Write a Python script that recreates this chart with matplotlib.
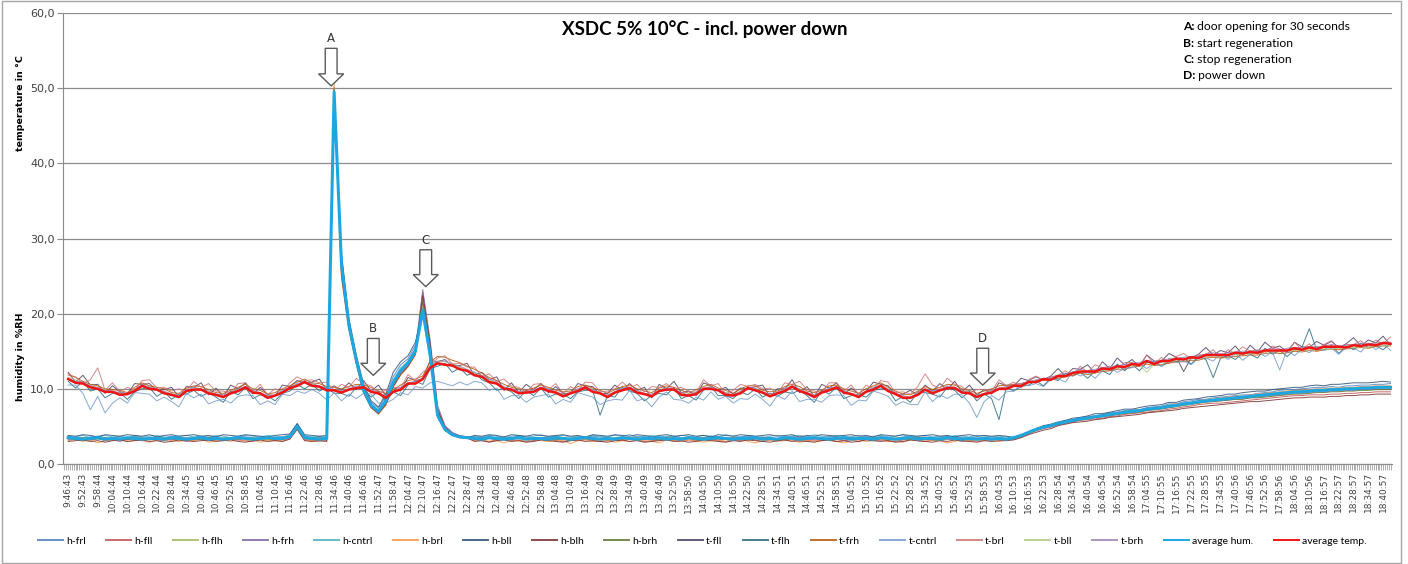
import numpy as np
import matplotlib
matplotlib.use("Agg")
import matplotlib.pyplot as plt
from matplotlib.patches import FancyArrow, Rectangle
from matplotlib.ticker import FixedLocator

# one sample every 3 minutes starting 9:46:43, x labels every 6 minutes
time_labels = [
    "9:46:43", "9:52:43", "9:58:44", "10:04:44", "10:10:44", "10:16:44", "10:22:44", "10:28:44",
    "10:34:45", "10:40:45", "10:46:45", "10:52:45", "10:58:45", "11:04:45", "11:10:45", "11:16:46",
    "11:22:46", "11:28:46", "11:34:46", "11:40:46", "11:46:46", "11:52:47", "11:58:47", "12:04:47",
    "12:10:47", "12:16:47", "12:22:47", "12:28:47", "12:34:48", "12:40:48", "12:46:48", "12:52:48",
    "12:58:48", "13:04:48", "13:10:49", "13:16:49", "13:22:49", "13:28:49", "13:34:49", "13:40:49",
    "13:46:49", "13:52:50", "13:58:50", "14:04:50", "14:10:50", "14:16:50", "14:22:50", "14:28:51",
    "14:34:51", "14:40:51", "14:46:51", "14:52:51", "14:58:51", "15:04:51", "15:10:52", "15:16:52",
    "15:22:52", "15:28:52", "15:34:52", "15:40:52", "15:46:52", "15:52:53", "15:58:53", "16:04:53",
    "16:10:53", "16:16:53", "16:22:53", "16:28:54", "16:34:54", "16:40:54", "16:46:54", "16:52:54",
    "16:58:54", "17:04:55", "17:10:55", "17:16:55", "17:22:55", "17:28:55", "17:34:55", "17:40:56",
    "17:46:56", "17:52:56", "17:58:56", "18:04:56", "18:10:56", "18:16:57", "18:22:57", "18:28:57",
    "18:34:57", "18:40:57",
]
y_labels = ["0,0", "10,0", "20,0", "30,0", "40,0", "50,0", "60,0"]

# ---- humidity sensors (%RH) ----
h_frl = [
    3.6, 3.5, 3.4, 3.6, 3.7, 3.5, 3.4, 3.6, 3.5, 3.7, 3.5, 3.4, 3.6, 3.5, 3.7, 3.6, 3.4, 3.5,
    3.7, 3.5, 3.6, 3.4, 3.5, 3.7, 3.6, 3.5, 3.4, 3.6, 3.5, 3.6, 3.8, 5.2, 3.7, 3.5, 3.6, 3.5,
    49.0, 27.5, 19.0, 14.2, 10.3, 8.2, 7.4, 9.0, 11.6, 13.2, 14.0, 15.8, 21.5, 15.5, 7.0, 4.8, 4.0, 3.7, 3.6,
    3.6, 3.5, 3.7, 3.4, 3.6, 3.5, 3.7, 3.6, 3.4, 3.5, 3.6, 3.7, 3.5, 3.4, 3.6, 3.5, 3.7, 3.6, 3.5, 3.4,
    3.6, 3.5, 3.7, 3.6, 3.4, 3.5, 3.6, 3.7, 3.5, 3.6, 3.4, 3.5, 3.7, 3.6, 3.5, 3.4, 3.6, 3.7, 3.5, 3.6,
    3.5, 3.4, 3.6, 3.7, 3.5, 3.6, 3.4, 3.5, 3.7, 3.6, 3.5, 3.6, 3.4, 3.7, 3.5, 3.6, 3.5, 3.4, 3.6, 3.7,
    3.5, 3.6, 3.4, 3.5, 3.7, 3.6, 3.5, 3.4, 3.6, 3.5, 3.6, 3.5, 3.4,
    3.5, 3.8, 4.3, 4.7, 5.0, 5.2, 5.5, 5.8, 5.9, 6.2, 6.3, 6.4, 6.6, 6.8, 6.9, 7.1, 7.2, 7.2, 7.5, 7.6,
    7.7, 8.0, 8.0, 8.3, 8.4, 8.6, 8.6, 8.8, 8.9, 9.0, 9.1, 9.2, 9.2, 9.4, 9.5, 9.6, 9.8, 9.9, 9.9, 10.0,
    10.1, 10.2, 10.2, 10.3, 10.2, 10.4, 10.4, 10.5, 10.5, 10.6, 10.6, 10.7,
]
h_fll = [
    3.2, 3.3, 3.1, 3.2, 3.4, 3.1, 3.2, 3.0, 3.3, 3.2, 3.1, 3.3, 3.2, 3.1, 3.3, 3.2, 3.0, 3.2,
    3.3, 3.1, 3.2, 3.1, 3.3, 3.2, 3.1, 3.0, 3.2, 3.3, 3.1, 3.2, 3.4, 4.8, 3.3, 3.1, 3.2, 3.1,
    50.2, 25.0, 18.0, 13.5, 9.5, 7.6, 6.8, 8.0, 10.4, 12.0, 13.1, 14.7, 22.8, 16.0, 7.5, 5.0, 4.1, 3.7, 3.5,
    3.2, 3.1, 3.0, 3.2, 3.3, 3.1, 3.2, 3.0, 3.1, 3.3, 3.2, 3.1, 3.0, 3.2, 3.1, 3.3, 3.2, 3.0, 3.1, 3.2,
    3.1, 3.3, 3.2, 3.0, 3.1, 3.2, 3.3, 3.1, 3.0, 3.2, 3.1, 3.2, 3.3, 3.1, 3.0, 3.2, 3.1, 3.3, 3.2, 3.0,
    3.2, 3.1, 3.3, 3.2, 3.0, 3.1, 3.2, 3.1, 3.3, 3.0, 3.1, 3.2, 3.0, 3.3, 3.1, 3.2, 3.1, 3.0, 3.2, 3.3,
    3.1, 3.0, 3.2, 3.1, 3.3, 3.2, 3.0, 3.1, 3.2, 3.1, 3.2, 3.3, 3.2,
    3.3, 3.6, 4.0, 4.4, 4.7, 4.9, 5.2, 5.4, 5.6, 5.8, 5.9, 6.0, 6.1, 6.3, 6.4, 6.6, 6.7, 6.8, 6.9, 7.0,
    7.1, 7.3, 7.4, 7.6, 7.7, 7.9, 8.0, 8.1, 8.1, 8.2, 8.3, 8.4, 8.5, 8.6, 8.7, 8.8, 8.9, 9.0, 9.1, 9.1,
    9.2, 9.2, 9.2, 9.3, 9.3, 9.4, 9.4, 9.5, 9.5, 9.6, 9.6, 9.6,
]
h_flh = [
    3.4, 3.3, 3.5, 3.4, 3.2, 3.4, 3.5, 3.3, 3.4, 3.2, 3.5, 3.4, 3.3, 3.5, 3.4, 3.2, 3.4, 3.5,
    3.3, 3.4, 3.2, 3.5, 3.4, 3.3, 3.4, 3.5, 3.3, 3.2, 3.4, 3.5, 3.6, 5.0, 3.5, 3.4, 3.3, 3.4,
    49.8, 26.0, 18.4, 13.6, 9.6, 7.7, 6.9, 8.2, 10.6, 12.2, 13.3, 14.9, 20.8, 15.0, 6.8, 4.7, 3.9, 3.6, 3.4,
    3.4, 3.3, 3.5, 3.4, 3.2, 3.4, 3.5, 3.3, 3.4, 3.5, 3.3, 3.4, 3.2, 3.5, 3.4, 3.3, 3.5, 3.4, 3.2, 3.4,
    3.5, 3.3, 3.4, 3.5, 3.2, 3.4, 3.3, 3.5, 3.4, 3.3, 3.4, 3.5, 3.3, 3.2, 3.4, 3.5, 3.4, 3.3, 3.5, 3.4,
    3.2, 3.4, 3.5, 3.3, 3.4, 3.2, 3.5, 3.4, 3.3, 3.5, 3.4, 3.3, 3.5, 3.4, 3.2, 3.4, 3.3, 3.5, 3.4, 3.3,
    3.5, 3.4, 3.2, 3.4, 3.5, 3.3, 3.4, 3.5, 3.3, 3.4, 3.3, 3.4, 3.4,
    3.4, 3.7, 4.1, 4.6, 4.9, 5.1, 5.3, 5.6, 5.8, 6.0, 6.1, 6.3, 6.4, 6.5, 6.7, 6.9, 7.0, 7.1, 7.2, 7.4,
    7.5, 7.7, 7.8, 7.9, 8.1, 8.3, 8.4, 8.5, 8.6, 8.7, 8.8, 8.9, 9.0, 9.1, 9.1, 9.3, 9.4, 9.5, 9.6, 9.6,
    9.7, 9.7, 9.8, 9.9, 9.9, 10.0, 10.0, 10.1, 10.1, 10.2, 10.2, 10.2,
]
h_frh = [
    3.3, 3.5, 3.4, 3.2, 3.4, 3.5, 3.3, 3.4, 3.2, 3.5, 3.3, 3.4, 3.5, 3.3, 3.2, 3.4, 3.5, 3.3,
    3.4, 3.2, 3.5, 3.3, 3.4, 3.2, 3.5, 3.4, 3.3, 3.5, 3.4, 3.3, 3.7, 5.1, 3.4, 3.3, 3.4, 3.3,
    50.0, 25.6, 18.2, 13.9, 9.9, 7.9, 7.1, 8.5, 10.9, 12.5, 13.6, 15.3, 23.2, 16.5, 7.8, 5.1, 4.2, 3.8, 3.6,
    3.3, 3.5, 3.4, 3.2, 3.4, 3.3, 3.5, 3.3, 3.2, 3.4, 3.5, 3.3, 3.4, 3.2, 3.3, 3.5, 3.4, 3.3, 3.2, 3.4,
    3.3, 3.5, 3.2, 3.4, 3.3, 3.4, 3.5, 3.3, 3.2, 3.4, 3.5, 3.3, 3.4, 3.2, 3.3, 3.5, 3.4, 3.2, 3.3, 3.4,
    3.3, 3.2, 3.4, 3.5, 3.3, 3.4, 3.2, 3.3, 3.5, 3.4, 3.2, 3.3, 3.4, 3.5, 3.3, 3.2, 3.4, 3.3, 3.5, 3.4,
    3.3, 3.2, 3.4, 3.3, 3.5, 3.4, 3.3, 3.2, 3.4, 3.3, 3.4, 3.3, 3.3,
    3.4, 3.7, 4.1, 4.5, 4.8, 5.0, 5.3, 5.5, 5.7, 5.9, 6.0, 6.2, 6.3, 6.5, 6.6, 6.8, 6.9, 7.0, 7.2, 7.3,
    7.4, 7.5, 7.7, 7.9, 8.0, 8.1, 8.3, 8.4, 8.4, 8.5, 8.6, 8.7, 8.8, 8.9, 9.0, 9.1, 9.2, 9.3, 9.4, 9.4,
    9.5, 9.6, 9.6, 9.7, 9.7, 9.8, 9.8, 9.9, 9.9, 10.0, 10.0, 10.0,
]
h_cntrl = [
    3.7, 3.6, 3.8, 3.5, 3.7, 3.8, 3.6, 3.7, 3.5, 3.8, 3.6, 3.7, 3.8, 3.6, 3.5, 3.7, 3.8, 3.6,
    3.7, 3.6, 3.8, 3.7, 3.5, 3.6, 3.8, 3.7, 3.6, 3.8, 3.7, 3.6, 3.9, 5.3, 3.8, 3.6, 3.7, 3.6,
    49.5, 27.0, 18.8, 14.0, 10.0, 7.9, 7.1, 8.6, 11.2, 12.8, 13.7, 15.4, 19.6, 13.8, 6.2, 4.5, 3.8, 3.5, 3.4,
    3.7, 3.6, 3.8, 3.7, 3.5, 3.7, 3.8, 3.6, 3.7, 3.9, 3.6, 3.7, 3.8, 3.6, 3.7, 3.5, 3.8, 3.7, 3.6, 3.8,
    3.7, 3.9, 3.6, 3.7, 3.8, 3.6, 3.7, 3.5, 3.8, 3.7, 3.6, 3.8, 3.7, 3.6, 3.9, 3.7, 3.6, 3.8, 3.7, 3.5,
    3.7, 3.8, 3.6, 3.7, 3.8, 3.6, 3.9, 3.7, 3.6, 3.8, 3.7, 3.6, 3.8, 3.5, 3.7, 3.8, 3.6, 3.7, 3.9, 3.6,
    3.7, 3.8, 3.6, 3.7, 3.5, 3.8, 3.7, 3.6, 3.8, 3.7, 3.6, 3.7, 3.6,
    3.6, 3.9, 4.2, 4.6, 4.9, 5.2, 5.4, 5.6, 5.9, 6.0, 6.2, 6.3, 6.5, 6.6, 6.8, 6.9, 7.1, 7.2, 7.3, 7.5,
    7.6, 7.7, 7.9, 8.0, 8.2, 8.3, 8.5, 8.6, 8.7, 8.8, 8.9, 9.0, 9.1, 9.2, 9.3, 9.4, 9.5, 9.6, 9.7, 9.7,
    9.8, 9.9, 9.9, 10.0, 10.0, 10.1, 10.1, 10.2, 10.2, 10.3, 10.3, 10.3,
]
h_brl = [
    3.1, 3.3, 3.0, 3.2, 2.8, 3.1, 3.2, 3.3, 3.0, 3.2, 3.1, 2.9, 3.2, 3.3, 3.1, 3.0, 3.2, 3.1,
    3.3, 2.9, 3.1, 3.2, 3.0, 3.3, 3.1, 3.2, 2.9, 3.1, 3.2, 3.0, 3.4, 4.7, 3.2, 3.1, 3.0, 3.2,
    50.6, 24.6, 17.8, 13.3, 9.4, 7.5, 6.6, 7.8, 10.2, 11.8, 12.9, 14.5, 21.0, 14.8, 6.6, 4.6, 3.9, 3.6, 3.4,
    3.1, 3.2, 3.0, 3.1, 2.8, 3.2, 3.1, 3.0, 3.3, 3.1, 3.0, 3.2, 3.1, 2.7, 3.1, 3.2, 3.0, 3.1, 3.2, 2.9,
    3.1, 3.0, 3.2, 3.1, 3.0, 2.8, 3.2, 3.1, 3.0, 3.2, 3.1, 2.9, 3.1, 3.2, 3.0, 3.1, 3.3, 3.0, 2.8, 3.1,
    3.2, 3.0, 3.1, 3.2, 2.9, 3.1, 3.0, 3.2, 3.1, 3.0, 2.8, 3.1, 3.2, 3.0, 3.1, 3.3, 3.0, 3.1, 2.9, 3.2,
    3.1, 3.0, 3.2, 3.1, 2.8, 3.0, 3.2, 3.1, 3.0, 3.2, 3.1, 3.0, 3.2,
    3.4, 3.8, 4.2, 4.6, 5.0, 5.2, 5.4, 5.7, 5.9, 6.1, 6.2, 6.4, 6.5, 6.7, 6.8, 7.0, 7.1, 7.2, 7.4, 7.5,
    7.6, 7.8, 8.0, 8.1, 8.2, 8.4, 8.6, 8.6, 8.8, 8.9, 9.0, 9.0, 9.2, 9.3, 9.4, 9.5, 9.6, 9.7, 9.8, 9.8,
    9.9, 10.0, 10.0, 10.1, 10.1, 10.2, 10.2, 10.3, 10.3, 10.4, 10.4, 10.4,
]
h_bll = [
    3.8, 3.7, 3.9, 3.8, 3.6, 3.9, 3.8, 3.7, 3.9, 3.8, 3.7, 3.9, 3.6, 3.8, 3.9, 3.7, 3.8, 3.9,
    3.7, 3.8, 3.6, 3.9, 3.8, 3.7, 3.9, 3.8, 3.7, 3.6, 3.8, 3.9, 4.0, 5.4, 3.9, 3.8, 3.7, 3.8,
    48.8, 28.0, 19.4, 14.5, 10.6, 8.4, 7.6, 9.3, 12.2, 13.6, 14.4, 16.2, 20.2, 14.2, 6.4, 4.5, 3.8, 3.6, 3.5,
    3.8, 3.7, 3.9, 3.8, 3.6, 3.9, 3.8, 3.7, 3.9, 3.8, 3.7, 3.8, 3.9, 3.7, 3.8, 3.6, 3.9, 3.8, 3.7, 3.9,
    3.8, 3.7, 3.9, 3.8, 3.6, 3.8, 3.9, 3.7, 3.8, 3.9, 3.7, 3.8, 3.6, 3.9, 3.8, 3.7, 3.9, 3.8, 3.7, 3.8,
    3.9, 3.7, 3.8, 3.9, 3.6, 3.8, 3.7, 3.9, 3.8, 3.7, 3.8, 3.9, 3.7, 3.8, 3.6, 3.9, 3.8, 3.7, 3.9, 3.8,
    3.7, 3.8, 3.9, 3.7, 3.8, 3.6, 3.8, 3.9, 3.7, 3.8, 3.7, 3.8, 3.7,
    3.5, 3.9, 4.3, 4.7, 5.1, 5.3, 5.6, 5.8, 6.1, 6.2, 6.4, 6.7, 6.7, 6.9, 7.1, 7.3, 7.3, 7.5, 7.7, 7.8,
    7.9, 8.2, 8.2, 8.5, 8.6, 8.7, 8.9, 9.0, 9.1, 9.3, 9.3, 9.5, 9.6, 9.7, 9.7, 9.9, 10.0, 10.1, 10.2, 10.2,
    10.4, 10.5, 10.4, 10.6, 10.6, 10.7, 10.8, 10.8, 10.8, 10.9, 11.0, 10.9,
]
h_blh = [
    3.0, 3.1, 3.2, 3.0, 3.1, 2.9, 3.1, 3.2, 3.0, 3.1, 3.2, 3.0, 3.1, 2.9, 3.0, 3.2, 3.1, 3.0,
    3.1, 3.2, 3.0, 3.1, 3.2, 3.0, 2.9, 3.1, 3.2, 3.0, 3.1, 3.0, 3.3, 4.6, 3.1, 3.0, 3.1, 3.0,
    49.6, 25.2, 18.1, 13.4, 9.5, 7.5, 6.7, 7.9, 10.3, 11.9, 13.0, 14.6, 22.4, 15.8, 7.2, 4.9, 4.0, 3.7, 3.5,
    3.0, 3.1, 2.9, 3.1, 3.2, 3.0, 3.1, 2.9, 3.0, 3.2, 3.1, 3.0, 2.9, 3.1, 3.2, 3.0, 3.1, 3.0, 2.9, 3.1,
    3.2, 3.0, 3.1, 2.9, 3.0, 3.1, 3.2, 3.0, 3.1, 2.9, 3.0, 3.2, 3.1, 3.0, 2.9, 3.1, 3.0, 3.2, 3.1, 3.0,
    2.9, 3.1, 3.2, 3.0, 3.1, 3.0, 2.9, 3.1, 3.2, 3.0, 3.1, 2.9, 3.0, 3.2, 3.1, 3.0, 3.1, 2.9, 3.0, 3.2,
    3.1, 3.0, 2.9, 3.1, 3.0, 3.2, 3.1, 3.0, 2.9, 3.1, 3.0, 3.1, 3.1,
    3.2, 3.5, 3.9, 4.2, 4.5, 4.7, 5.1, 5.3, 5.5, 5.6, 5.7, 5.9, 6.0, 6.2, 6.3, 6.4, 6.5, 6.6, 6.8, 6.9,
    7.0, 7.1, 7.2, 7.4, 7.5, 7.6, 7.7, 7.8, 7.9, 8.0, 8.1, 8.2, 8.3, 8.3, 8.4, 8.5, 8.6, 8.7, 8.8, 8.8,
    8.9, 8.9, 8.9, 9.0, 9.0, 9.1, 9.1, 9.2, 9.2, 9.3, 9.3, 9.3,
]
h_brh = [
    3.4, 3.3, 3.5, 3.3, 3.4, 3.2, 3.5, 3.4, 3.3, 3.5, 3.4, 3.2, 3.4, 3.3, 3.5, 3.4, 3.3, 3.4,
    3.2, 3.5, 3.3, 3.4, 3.5, 3.3, 3.4, 3.2, 3.5, 3.4, 3.3, 3.4, 3.6, 4.9, 3.4, 3.3, 3.5, 3.3,
    49.9, 26.2, 18.6, 13.7, 9.7, 7.8, 7.0, 8.3, 10.7, 12.3, 13.4, 15.0, 21.8, 15.2, 6.9, 4.7, 3.9, 3.6, 3.4,
    3.4, 3.3, 3.5, 3.3, 3.4, 3.2, 3.5, 3.4, 3.3, 3.5, 3.4, 3.2, 3.4, 3.3, 3.5, 3.4, 3.3, 3.4, 3.2, 3.5,
    3.3, 3.4, 3.5, 3.3, 3.4, 3.2, 3.5, 3.4, 3.3, 3.4, 3.2, 3.5, 3.3, 3.4, 3.5, 3.3, 3.4, 3.2, 3.4, 3.5,
    3.3, 3.4, 3.2, 3.5, 3.4, 3.3, 3.5, 3.4, 3.2, 3.3, 3.4, 3.5, 3.3, 3.4, 3.2, 3.4, 3.5, 3.3, 3.4, 3.3,
    3.5, 3.4, 3.2, 3.3, 3.4, 3.5, 3.3, 3.4, 3.3, 3.4, 3.3, 3.4, 3.4,
    3.4, 3.7, 4.1, 4.5, 4.8, 5.0, 5.3, 5.5, 5.7, 5.9, 6.0, 6.2, 6.3, 6.4, 6.6, 6.7, 6.8, 6.9, 7.1, 7.2,
    7.3, 7.5, 7.6, 7.8, 7.9, 8.1, 8.2, 8.3, 8.4, 8.5, 8.6, 8.6, 8.8, 8.8, 8.9, 9.0, 9.1, 9.2, 9.3, 9.3,
    9.4, 9.5, 9.5, 9.6, 9.6, 9.7, 9.7, 9.8, 9.8, 9.9, 9.9, 9.9,
]

# ---- temperature sensors (degC) ----
t_fll = [
    12.2, 10.9, 11.8, 10.5, 10.6, 9.4, 10.4, 9.6, 9.3, 10.7, 10.6, 10.7, 9.8, 9.9, 10.2, 8.9, 10.3, 10.2, 10.8, 9.2,
    10.1, 9.0, 10.5, 10.0, 10.8, 9.3, 10.2, 9.2, 9.1, 10.5, 10.3, 11.1, 10.8, 10.9, 11.3, 9.8, 10.4, 9.8, 10.8, 9.9,
    11.1, 9.7, 10.5, 9.1, 10.2, 9.7, 11.5, 11.1, 11.3, 13.8, 13.6, 13.9, 13.0, 13.1, 13.4, 11.8, 12.2, 11.2, 11.6, 9.8,
    10.8, 9.5, 10.6, 9.9, 10.7, 9.5, 10.3, 9.4, 9.4, 10.7, 10.4, 10.3, 9.3, 9.4, 10.5, 9.8, 10.7, 9.8, 10.2, 8.8,
    10.6, 10.0, 11.0, 9.5, 9.7, 9.1, 10.8, 10.4, 9.8, 10.2, 9.3, 10.1, 10.0, 10.3, 10.5, 9.0, 10.0, 10.0, 11.2, 9.5,
    10.3, 9.0, 10.6, 10.1, 10.8, 9.3, 10.1, 9.3, 9.6, 10.9, 10.6, 10.4, 9.2, 9.3, 9.8, 9.2, 10.5, 9.7, 10.7, 9.9,
    11.0, 9.6, 10.5, 9.2, 9.9, 9.3, 10.8, 10.4, 10.4, 11.4, 11.1, 11.6, 11.2, 11.7, 12.7, 11.7, 12.7, 12.6, 13.2, 12.1,
    13.6, 12.7, 14.1, 13.2, 13.9, 13.0, 14.5, 13.7, 13.7, 14.7, 14.2, 12.3, 14.1, 14.6, 15.5, 14.5, 15.1, 14.8, 15.7, 14.5,
    15.8, 14.9, 16.2, 15.4, 15.7, 14.9, 16.2, 15.6, 15.5, 16.3, 15.8, 16.3, 15.5, 16.0, 16.8, 15.7, 16.5, 16.1, 17.0, 15.8,
]
t_flh = [
    11.0, 10.1, 11.0, 9.7, 10.0, 8.8, 9.4, 9.5, 8.6, 9.6, 10.0, 10.2, 9.0, 9.6, 8.6, 9.3, 9.3, 9.8, 9.0, 9.5,
    8.9, 8.2, 9.7, 9.2, 10.2, 8.7, 9.2, 9.1, 8.4, 9.4, 9.7, 10.6, 10.0, 10.6, 9.7, 10.2, 9.4, 9.4, 9.0, 10.2,
    9.9, 8.9, 9.7, 8.3, 9.6, 9.1, 10.5, 11.0, 10.6, 12.7, 13.0, 13.4, 12.2, 12.8, 11.8, 12.2, 11.2, 10.8, 9.8, 10.1,
    9.6, 8.7, 9.8, 9.1, 10.1, 8.9, 9.3, 9.3, 8.7, 9.6, 9.8, 9.8, 6.5, 9.1, 8.9, 10.2, 9.7, 9.4, 8.4, 9.1,
    9.4, 9.2, 10.2, 8.7, 9.1, 8.5, 9.8, 10.3, 9.1, 9.1, 8.7, 9.6, 9.2, 10.0, 8.9, 9.4, 9.0, 9.6, 9.4, 9.8,
    9.1, 8.2, 9.8, 9.3, 10.2, 8.7, 9.1, 9.2, 8.9, 9.8, 10.0, 9.9, 8.4, 9.0, 8.2, 9.6, 9.5, 9.3, 8.9, 10.2,
    9.8, 8.8, 9.7, 8.4, 9.3, 8.7, 5.9, 10.3, 9.7, 10.3, 10.5, 11.1, 10.4, 11.4, 11.1, 12.1, 11.7, 12.2, 11.4, 12.4,
    12.4, 11.9, 13.3, 12.4, 13.3, 12.4, 13.5, 13.6, 13.0, 13.6, 13.6, 14.1, 13.3, 14.3, 13.9, 11.5, 14.1, 14.4, 13.9, 14.8,
    14.6, 14.1, 15.4, 14.6, 15.1, 14.3, 15.2, 15.5, 18.0, 15.2, 15.2, 15.8, 14.7, 15.7, 15.2, 16.1, 15.5, 15.7, 15.2, 16.1,
]
t_frh = [
    12.0, 11.5, 11.0, 10.6, 10.4, 10.0, 9.9, 9.8, 9.5, 10.2, 10.8, 10.4, 10.2, 10.0, 9.5, 9.4, 10.1, 10.4, 10.3, 9.9,
    9.5, 9.4, 9.8, 10.2, 10.6, 10.0, 9.8, 9.3, 9.5, 10.0, 10.4, 10.9, 11.3, 10.8, 10.7, 10.3, 10.2, 10.0, 10.3, 10.6,
    10.5, 10.2, 9.7, 9.4, 9.9, 10.5, 11.1, 11.3, 11.7, 13.6, 14.3, 14.2, 13.8, 13.5, 13.0, 12.6, 12.1, 11.5, 11.1, 10.6,
    10.2, 10.0, 9.8, 10.1, 10.5, 10.2, 9.8, 9.6, 9.7, 10.3, 10.5, 10.1, 9.8, 9.4, 9.9, 10.3, 10.5, 10.0, 9.7, 9.5,
    10.1, 10.4, 10.2, 9.8, 9.4, 9.9, 10.3, 10.6, 10.1, 9.8, 9.4, 10.0, 10.4, 10.4, 9.8, 9.6, 9.7, 10.3, 10.6, 10.3,
    9.7, 9.5, 9.8, 10.4, 10.5, 10.0, 9.7, 9.4, 10.0, 10.4, 10.8, 10.2, 9.7, 9.3, 9.2, 9.7, 10.3, 9.9, 10.2, 10.6,
    10.5, 10.0, 9.8, 9.4, 9.7, 10.0, 10.4, 10.5, 10.6, 10.7, 10.9, 11.0, 11.1, 11.2, 11.4, 11.6, 11.8, 12.1, 11.9, 12.1,
    12.3, 12.4, 12.6, 12.6, 12.9, 13.0, 13.3, 13.1, 13.2, 13.4, 13.6, 13.6, 13.8, 13.8, 14.1, 14.2, 14.1, 14.2, 14.3, 14.4,
    14.5, 14.5, 14.7, 14.8, 14.7, 14.8, 15.0, 14.9, 15.1, 15.0, 15.2, 15.3, 15.2, 15.3, 15.4, 15.5, 15.4, 15.6, 15.7, 15.7,
]
t_cntrl = [
    10.5, 10.5, 9.4, 7.2, 9.0, 6.8, 8.1, 8.8, 8.1, 9.5, 9.4, 9.3, 8.4, 8.9, 8.3, 7.6, 9.4, 8.8, 9.3, 8.0,
    8.4, 8.6, 8.1, 9.0, 9.2, 9.1, 7.9, 8.4, 7.9, 9.3, 9.1, 9.7, 9.4, 9.9, 9.4, 8.5, 9.5, 8.4, 9.3, 8.7,
    9.4, 9.3, 8.1, 8.1, 8.6, 9.5, 9.2, 10.3, 10.1, 10.8, 11.0, 10.7, 10.4, 10.9, 10.5, 11.0, 10.8, 9.8, 10.1, 8.6,
    9.1, 9.1, 8.2, 8.9, 9.1, 9.3, 8.0, 8.6, 8.2, 9.5, 9.2, 8.9, 7.9, 8.4, 8.6, 8.5, 9.8, 8.4, 8.7, 7.6,
    8.9, 9.6, 8.6, 8.5, 8.1, 8.9, 8.5, 9.6, 8.6, 9.0, 8.1, 8.7, 8.6, 9.3, 8.6, 7.7, 9.1, 8.6, 9.7, 8.3,
    8.6, 8.6, 8.2, 9.1, 9.2, 9.1, 7.8, 8.5, 8.4, 9.7, 9.4, 9.0, 7.8, 8.3, 7.9, 7.9, 9.6, 8.3, 9.2, 8.7,
    9.3, 9.2, 8.1, 6.2, 8.3, 9.1, 8.5, 9.6, 9.7, 10.7, 10.4, 10.7, 10.3, 11.2, 11.3, 10.9, 12.3, 11.7, 12.2, 11.4,
    12.4, 12.8, 12.2, 12.7, 12.8, 13.3, 12.7, 13.4, 13.0, 14.0, 13.5, 13.7, 13.2, 14.1, 14.1, 13.7, 14.7, 13.9, 14.7, 13.8,
    14.6, 15.0, 14.3, 14.9, 12.5, 15.2, 14.4, 15.3, 14.8, 15.6, 15.1, 15.4, 14.6, 15.5, 15.4, 14.9, 16.1, 15.2, 16.0, 15.1,
]
t_brl = [
    11.8, 11.6, 10.7, 11.2, 12.8, 9.8, 10.8, 9.6, 10.2, 9.8, 11.1, 11.2, 10.1, 10.2, 9.7, 10.0, 9.7, 11.0, 10.2, 10.7,
    9.7, 9.7, 9.4, 10.7, 10.8, 9.7, 10.6, 9.2, 10.0, 9.6, 10.8, 11.6, 11.1, 11.2, 10.8, 10.9, 9.8, 10.6, 10.2, 11.4,
    10.7, 10.4, 9.4, 9.8, 10.2, 10.1, 11.9, 11.1, 12.2, 12.9, 14.1, 14.4, 13.3, 13.4, 12.9, 12.9, 11.6, 12.0, 11.0, 11.3,
    10.4, 10.2, 9.5, 10.6, 10.7, 9.9, 10.7, 9.4, 10.3, 9.8, 10.9, 10.8, 9.6, 9.7, 10.0, 10.9, 10.1, 10.6, 9.6, 10.3,
    10.2, 10.7, 9.9, 10.2, 9.7, 9.5, 11.2, 10.4, 10.7, 9.3, 9.8, 10.6, 10.3, 10.6, 10.0, 10.1, 9.4, 10.8, 10.6, 11.0,
    9.9, 9.7, 9.5, 10.8, 10.8, 9.7, 10.5, 9.3, 10.5, 10.0, 11.1, 10.9, 9.5, 9.6, 9.3, 10.3, 12.0, 10.5, 10.1, 11.4,
    10.6, 10.3, 9.4, 9.9, 9.9, 9.7, 11.2, 10.4, 10.9, 10.1, 11.2, 11.7, 11.1, 11.6, 11.8, 12.4, 11.7, 13.0, 12.2, 13.2,
    12.8, 13.0, 12.6, 13.5, 13.5, 13.0, 14.5, 13.3, 14.2, 13.4, 14.3, 14.7, 14.0, 14.5, 14.6, 15.2, 14.1, 15.2, 14.7, 15.6,
    15.0, 15.2, 14.7, 15.7, 15.3, 14.9, 16.2, 15.2, 16.0, 15.0, 15.9, 16.4, 15.4, 15.9, 15.9, 16.4, 15.5, 16.5, 16.0, 16.9,
]
t_bll = [
    11.5, 11.2, 10.7, 10.5, 10.0, 9.9, 9.6, 9.5, 9.3, 10.0, 10.4, 10.2, 10.0, 9.6, 9.3, 9.1, 9.7, 10.2, 9.9, 9.6,
    9.3, 9.1, 9.4, 9.9, 10.3, 9.7, 9.4, 9.0, 9.1, 9.7, 10.1, 10.6, 10.9, 10.6, 10.3, 10.0, 9.8, 9.7, 9.9, 10.3,
    10.2, 9.8, 9.4, 9.0, 9.6, 10.1, 10.7, 10.9, 11.4, 13.1, 13.6, 13.6, 13.3, 12.9, 12.5, 12.1, 11.7, 11.2, 10.8, 10.2,
    9.9, 9.6, 9.5, 9.8, 10.1, 9.9, 9.5, 9.2, 9.4, 9.9, 10.2, 9.8, 9.4, 9.1, 9.5, 10.0, 10.1, 9.7, 9.3, 9.2,
    9.7, 10.1, 9.9, 9.4, 9.1, 9.5, 10.0, 10.2, 9.8, 9.4, 9.1, 9.6, 10.1, 10.0, 9.5, 9.2, 9.4, 9.9, 10.3, 9.9,
    9.4, 9.1, 9.5, 10.0, 10.2, 9.7, 9.3, 9.1, 9.6, 10.1, 10.4, 9.9, 9.3, 9.0, 8.8, 9.4, 9.9, 9.6, 9.8, 10.3,
    10.1, 9.7, 9.4, 9.1, 9.3, 9.7, 10.0, 10.2, 10.4, 10.6, 10.9, 11.0, 11.3, 11.3, 11.6, 11.8, 12.0, 12.3, 12.1, 12.3,
    12.5, 12.6, 12.8, 12.9, 13.1, 13.2, 12.2, 13.3, 13.5, 13.6, 13.8, 13.9, 14.0, 14.1, 14.3, 14.4, 14.3, 14.5, 14.5, 14.6,
    14.7, 14.7, 14.9, 15.0, 14.9, 15.0, 15.1, 15.1, 15.2, 15.2, 15.3, 15.3, 15.4, 15.4, 15.5, 15.6, 15.5, 15.7, 15.8, 15.8,
]
t_brh = [
    11.4, 11.0, 10.9, 10.4, 10.2, 9.8, 9.7, 9.5, 9.4, 10.0, 10.5, 10.3, 9.9, 9.7, 9.3, 9.2, 9.8, 10.2, 10.0, 9.7,
    9.3, 9.2, 9.5, 10.0, 10.3, 9.8, 9.5, 9.1, 9.2, 9.8, 10.2, 10.7, 11.0, 10.7, 10.4, 10.1, 9.9, 9.8, 10.0, 10.4,
    10.3, 9.9, 9.5, 9.1, 9.7, 10.2, 10.8, 11.0, 11.4, 13.1, 13.7, 13.7, 13.3, 13.0, 12.6, 12.2, 11.8, 11.3, 10.9, 10.3,
    10.0, 9.7, 9.6, 9.9, 10.2, 10.0, 9.6, 9.3, 9.5, 10.0, 10.3, 9.9, 9.5, 9.2, 9.6, 10.1, 10.2, 9.8, 9.4, 9.3,
    9.8, 10.2, 10.0, 9.5, 9.2, 9.6, 10.1, 10.3, 9.9, 9.5, 9.2, 9.7, 10.2, 10.1, 9.6, 9.3, 9.5, 10.0, 10.4, 10.0,
    9.5, 9.2, 9.6, 10.1, 10.3, 9.8, 9.4, 9.2, 9.7, 10.2, 10.5, 10.0, 9.4, 9.1, 8.9, 9.5, 10.0, 9.7, 9.9, 10.4,
    10.2, 9.8, 9.5, 9.2, 9.4, 9.8, 10.1, 10.3, 10.5, 10.7, 11.0, 11.2, 11.4, 11.5, 11.8, 12.0, 12.2, 12.6, 12.4, 12.6,
    12.8, 12.9, 13.1, 13.2, 13.4, 13.5, 13.8, 13.6, 13.8, 14.0, 14.1, 14.2, 14.3, 14.4, 14.6, 14.8, 14.6, 14.8, 14.9, 15.0,
    15.0, 15.1, 15.2, 15.4, 15.2, 15.4, 15.5, 15.5, 15.6, 15.6, 15.7, 15.9, 15.7, 15.8, 15.9, 16.0, 16.0, 16.1, 16.2, 16.2,
]

# ---- averages ----
avg_hum = [
    3.5, 3.4, 3.3, 3.4, 3.5, 3.3, 3.4, 3.3, 3.5, 3.4, 3.3, 3.4, 3.4, 3.3, 3.5, 3.4, 3.3, 3.4,
    3.5, 3.3, 3.4, 3.3, 3.4, 3.5, 3.4, 3.3, 3.4, 3.5, 3.4, 3.4, 3.6, 5.0, 3.5, 3.4, 3.3, 3.4,
    49.5, 26.5, 18.5, 13.8, 9.8, 7.8, 7.0, 8.4, 10.8, 12.4, 13.4, 15.0, 20.5, 14.5, 6.5, 4.6, 3.9, 3.6, 3.5,
    3.4, 3.3, 3.5, 3.4, 3.3, 3.4, 3.5, 3.3, 3.4, 3.4, 3.3, 3.5, 3.4, 3.3, 3.4, 3.5, 3.4, 3.3, 3.4, 3.3,
    3.5, 3.4, 3.3, 3.4, 3.4, 3.5, 3.3, 3.4, 3.3, 3.5, 3.4, 3.3, 3.4, 3.5, 3.4, 3.3, 3.4, 3.4, 3.5, 3.3,
    3.4, 3.3, 3.5, 3.4, 3.3, 3.4, 3.5, 3.4, 3.3, 3.4, 3.5, 3.3, 3.4, 3.4, 3.3, 3.5, 3.4, 3.3, 3.4, 3.5,
    3.3, 3.4, 3.4, 3.3, 3.5, 3.4, 3.3, 3.4, 3.3, 3.4, 3.3, 3.4, 3.3,
    3.5, 3.8, 4.2, 4.6, 4.9, 5.1, 5.4, 5.6, 5.8, 6.0, 6.1, 6.3, 6.4, 6.6, 6.7, 6.9, 7.0, 7.1, 7.3, 7.4,
    7.5, 7.7, 7.8, 8.0, 8.1, 8.3, 8.4, 8.5, 8.6, 8.7, 8.8, 8.9, 9.0, 9.1, 9.2, 9.3, 9.4, 9.5, 9.6, 9.6,
    9.7, 9.8, 9.8, 9.9, 9.9, 10.0, 10.0, 10.1, 10.1, 10.2, 10.2, 10.2,
]
avg_temp = [
    11.3, 10.8, 10.7, 10.2, 10.0, 9.6, 9.6, 9.2, 9.3, 9.7, 10.4, 10.0, 9.9, 9.4, 9.2, 8.9, 9.7, 9.9, 9.9, 9.4,
    9.2, 8.9, 9.4, 9.7, 10.2, 9.5, 9.4, 8.8, 9.1, 9.5, 10.1, 10.4, 10.9, 10.4, 10.3, 9.8, 9.8, 9.5, 9.9, 10.1,
    10.2, 9.6, 9.4, 8.8, 9.6, 9.9, 10.7, 10.7, 11.3, 12.8, 13.4, 13.2, 13.1, 12.6, 12.4, 11.8, 11.6, 10.9, 10.7, 10.0,
    9.9, 9.4, 9.5, 9.6, 10.1, 9.7, 9.5, 9.0, 9.4, 9.7, 10.2, 9.6, 9.4, 8.9, 9.5, 9.8, 10.1, 9.5, 9.3, 9.0,
    9.7, 9.9, 9.9, 9.2, 9.1, 9.3, 10.0, 10.0, 9.8, 9.2, 9.1, 9.4, 10.1, 9.8, 9.5, 9.0, 9.4, 9.7, 10.3, 9.7,
    9.4, 8.9, 9.5, 9.8, 10.2, 9.5, 9.3, 8.9, 9.6, 9.9, 10.4, 9.7, 9.3, 8.8, 8.8, 9.2, 9.9, 9.4, 9.8, 10.1,
    10.1, 9.5, 9.4, 8.9, 9.3, 9.5, 10.0, 10.0, 10.4, 10.4, 10.9, 10.9, 11.3, 11.2, 11.7, 11.7, 12.1, 12.3, 12.3, 12.3,
    12.7, 12.6, 13.0, 12.9, 13.3, 13.2, 13.7, 13.3, 13.7, 13.7, 14.0, 13.9, 14.2, 14.1, 14.5, 14.5, 14.5, 14.5, 14.8, 14.7,
    14.9, 14.8, 15.1, 15.1, 15.1, 15.1, 15.4, 15.2, 15.5, 15.3, 15.6, 15.6, 15.6, 15.5, 15.8, 15.7, 15.9, 15.8, 16.1, 16.0,
]

sensor_names = ["h-frl", "h-fll", "h-flh", "h-frh", "h-cntrl", "h-brl", "h-bll", "h-blh", "h-brh",
                "t-fll", "t-flh", "t-frh", "t-cntrl", "t-brl", "t-bll", "t-brh"]
sensor_data = [h_frl, h_fll, h_flh, h_frh, h_cntrl, h_brl, h_bll, h_blh, h_brh,
               t_fll, t_flh, t_frh, t_cntrl, t_brl, t_bll, t_brh]
sensor_colors = ["#4F81BD", "#C0504D", "#9BBB59", "#8064A2", "#4BACC6", "#F79646",
                 "#2C4D75", "#772C2A", "#5F7530", "#4D3B62", "#276A7C", "#B65708",
                 "#729ACA", "#CD7371", "#AFC97A", "#9983B5"]

# event arrows: (label, sample position, tip value, top value)
events = [("A", 35.6, 50.3, 55.3), ("B", 41.3, 11.8, 16.7),
          ("C", 48.4, 23.6, 28.5), ("D", 123.8, 10.5, 15.4)]
event_notes = [("A:", " door opening for 30 seconds"), ("B:", " start regeneration"),
               ("C:", " stop regeneration"), ("D:", " power down")]

fig = plt.figure(figsize=(14.08, 5.64), dpi=100)
ax = fig.add_axes([63 / 1408, 1 - 464 / 564, (1392 - 63) / 1408, (464 - 13) / 564])

# Plot the sensors, then the averages on top
for name, data, color in zip(sensor_names, sensor_data, sensor_colors):
    ax.plot(np.arange(len(data)), data, color=color, lw=0.7, alpha=0.85, label=name)
ax.plot(np.arange(len(avg_hum)), avg_hum, color="#1EA6DF", lw=2.2, label="average hum.")
ax.plot(np.arange(len(avg_temp)), avg_temp, color="#F01414", lw=1.8, label="average temp.")

# Axes styling
ax.set_xlim(-0.7, 179.2)
ax.set_ylim(0, 60)
ax.set_yticks([0, 10, 20, 30, 40, 50, 60])
ax.set_yticklabels(y_labels, fontsize=8, color="#404040")
ax.yaxis.grid(True, color="#8C8C8C", lw=0.9)
ax.set_axisbelow(True)
ax.xaxis.set_major_locator(FixedLocator(np.arange(0, 180, 2)))
ax.set_xticklabels(time_labels, rotation=90, fontsize=6.5, color="#404040")
ax.xaxis.set_minor_locator(FixedLocator(np.arange(-0.5, 179.2, 0.25)))
ax.tick_params(axis="x", which="both", length=4, width=0.6, color="#A0A0A0", pad=2)
ax.tick_params(axis="y", length=4, width=0.8, color="#8C8C8C", pad=2)
for side in ["top", "right"]:
    ax.spines[side].set_visible(False)
for side in ["left", "bottom"]:
    ax.spines[side].set_color("#8C8C8C")

# Event arrows and letters
for letter, xpos, tip, top in events:
    arrow = FancyArrow(xpos, top, 0, tip - top, width=1.6, head_width=3.4, head_length=1.6,
                       length_includes_head=True, facecolor="white", edgecolor="#595959", lw=1.0, zorder=5)
    ax.add_patch(arrow)
    ax.text(xpos, top + 1.3, letter, ha="center", va="center", fontsize=8.5, color="#333333")

# Title and notes
fig.text(0.5005, 1 - 29 / 564, "XSDC 5% 10°C - incl. power down", ha="center", va="center",
         fontsize=13.5, fontweight="bold", family="Lato")
for k, (key, note) in enumerate(event_notes):
    t = fig.text(1183 / 1408, 1 - (27 + 16.3 * k) / 564, key, ha="left", va="center",
                 fontsize=8.7, fontweight="bold", family="Lato")
    ax.annotate(note, xy=(1, 0.5), xycoords=t, ha="left", va="center", fontsize=8.7, family="Lato")

# Axis titles
fig.text(21 / 1408, 1 - 103 / 564, "temperature in °C", rotation=90, ha="center", va="center",
         fontsize=6.8, fontweight="bold")
fig.text(21 / 1408, 1 - 357 / 564, "humidity in %RH", rotation=90, ha="center", va="center",
         fontsize=6.8, fontweight="bold")

# Legend along the bottom
leg = ax.legend(loc="center", bbox_to_anchor=(0.4986, 1 - 541 / 564), bbox_transform=fig.transFigure,
                ncol=18, frameon=False, handlelength=2.4, handletextpad=0.3,
                columnspacing=1.95, prop={"family": "Lato", "size": 7.5})
for line in leg.get_lines():
    line.set_linewidth(1.4)

# Chart border
fig.patches.append(Rectangle((0.0015, 0.002), 0.9935, 0.996, transform=fig.transFigure,
                             fill=False, edgecolor="#A6A6A6", lw=1.0))

fig.savefig("out.png", dpi=100)
